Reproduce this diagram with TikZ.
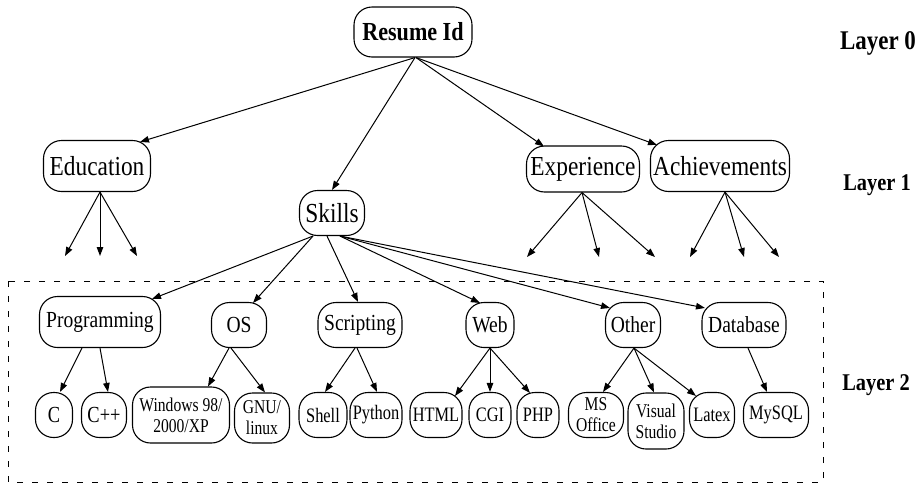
\documentclass[tikz,border=0pt]{standalone}
\usepackage{fontspec}
\setmainfont[FakeStretch=0.85]{Liberation Serif}
\newfontfamily\narrowfont[FakeStretch=0.8]{Liberation Serif}
\usetikzlibrary{arrows.meta}
\begin{document}
\begin{tikzpicture}[x=1pt,y=-1pt,
  box/.style={draw, rounded corners=18pt, inner sep=0pt, line width=1.1pt, align=center},
  arr/.style={-{Triangle[length=9pt,width=6.5pt]}, line width=1pt},
  big/.style={font=\fontsize{27.5}{32}\selectfont},
  mid/.style={font=\fontsize{23}{27}\selectfont},
  small/.style={font=\narrowfont\fontsize{20.5}{22}\selectfont},
  two/.style={font=\narrowfont\fontsize{19.5}{21}\selectfont},
  lab/.style={font=\bfseries\fontsize{24}{28}\selectfont},
  frame/.style={draw, line width=0.9pt, dash pattern=on 6pt off 9pt}
]
\useasboundingbox (0,0) rectangle (924,485);
% layer 0 and 1
\node[box,font=\bfseries\fontsize{26}{30}\selectfont,minimum width=118pt,minimum height=50pt] (root) at (413,32) {Resume Id};
\node[box,big,minimum width=107pt,minimum height=51pt] (edu) at (97,166) {Education};
\node[box,big,minimum width=65pt,minimum height=45pt] (skills) at (332,213) {Skills};
\node[box,big,minimum width=113pt,minimum height=46pt] (exp) at (583,169) {Experience};
\node[box,big,minimum width=139pt,minimum height=51pt] (ach) at (720,166) {Achievements};
% labels
\node[font=\bfseries\fontsize{27}{30}\selectfont] (l0) at (878,43) {Layer 0};
\node[lab] (l1) at (877,185) {Layer 1};
\node[lab] (l2) at (876,385) {Layer 2};
% frame
\draw[frame] (8,281) rectangle (823,482);
% layer 2 categories
\node[box,mid,minimum width=121pt,minimum height=51pt] (prog) at (100,322) {Programming};
\node[box,mid,minimum width=55pt,minimum height=45pt] (os) at (239,325) {OS};
\node[box,mid,minimum width=84pt,minimum height=45pt] (scr) at (360,325) {Scripting};
\node[box,mid,minimum width=48pt,minimum height=45pt] (web) at (490,325) {Web};
\node[box,mid,minimum width=55pt,minimum height=45pt] (oth) at (633,325) {Other};
\node[box,mid,minimum width=84pt,minimum height=45pt] (db) at (744,325) {Database};
% leaves
\node[box,font=\narrowfont\fontsize{23}{26}\selectfont,minimum width=37pt,minimum height=45pt] (c) at (54,415) {C};
\node[box,font=\narrowfont\fontsize{23}{26}\selectfont,minimum width=45pt,minimum height=45pt] (cpp) at (104,415) {C++};
\node[box,two,minimum width=97pt,minimum height=56pt] (win) at (181,415) {Windows 98/\\2000/XP};
\node[box,two,minimum width=55pt,minimum height=50pt] (gnu) at (262,418) {GNU/\\linux};
\node[box,small,minimum width=48pt,minimum height=45pt] (shell) at (323,415) {Shell};
\node[box,small,minimum width=52pt,minimum height=45pt] (py) at (376,415) {Python};
\node[box,small,minimum width=52pt,minimum height=45pt] (html) at (436,415) {HTML};
\node[box,small,minimum width=42pt,minimum height=45pt] (cgi) at (490,415) {CGI};
\node[box,small,minimum width=42pt,minimum height=45pt] (php) at (538,415) {PHP};
\node[box,two,minimum width=55pt,minimum height=45pt] (ms) at (596,415) {MS\\Office};
\node[box,two,minimum width=56pt,minimum height=56pt] (vs) at (656,421) {Visual\\Studio};
\node[box,small,minimum width=45pt,minimum height=45pt] (latex) at (712,415) {Latex};
\node[box,small,minimum width=65pt,minimum height=45pt] (mysql) at (776,415) {MySQL};
% free ends
\coordinate (e1) at (65,256); \coordinate (e2) at (100,256); \coordinate (e3) at (137,256);
\coordinate (x1) at (527,257); \coordinate (x2) at (599,257); \coordinate (x3) at (655,257);
\coordinate (a1) at (690,257); \coordinate (a2) at (744,257); \coordinate (a3) at (779,257);
% edges from root
\draw[arr] ([xshift=2pt]root.south) -- ([xshift=43pt,yshift=-2pt]edu.north);
\draw[arr] ([xshift=2pt]root.south) -- (skills.north);
\draw[arr] ([xshift=3pt]root.south) -- ([xshift=-39pt,yshift=-1pt]exp.north);
\draw[arr] ([xshift=3pt]root.south) -- ([xshift=-63pt,yshift=-5pt]ach.north);
% dangling
\draw[arr] ([xshift=3pt]edu.south) -- (e1);
\draw[arr] ([xshift=3pt]edu.south) -- (e2);
\draw[arr] ([xshift=3pt]edu.south) -- (e3);
\draw[arr] ([xshift=-1pt]exp.south) -- (x1);
\draw[arr] ([xshift=-1pt]exp.south) -- (x2);
\draw[arr] ([xshift=-1pt]exp.south) -- (x3);
\draw[arr] ([xshift=5pt]ach.south) -- (a1);
\draw[arr] ([xshift=5pt]ach.south) -- (a2);
\draw[arr] ([xshift=5pt]ach.south) -- (a3);
% skills
\draw[arr] ([xshift=-19pt]skills.south) -- ([xshift=52pt,yshift=-3pt]prog.north);
\draw[arr] ([xshift=-19pt]skills.south) -- ([xshift=14pt,yshift=-1pt]os.north);
\draw[arr] ([xshift=-5pt]skills.south) -- ([xshift=-2pt]scr.north);
\draw[arr] ([xshift=8pt]skills.south) -- ([xshift=-10pt,yshift=-1pt]web.north);
\draw[arr] ([xshift=8pt]skills.south) -- ([xshift=-23pt,yshift=-6pt]oth.north);
\draw[arr] ([xshift=8pt]skills.south) -- ([xshift=-39pt,yshift=-6pt]db.north);
% layer 2 edges
\draw[arr] ([xshift=-18pt]prog.south) -- ([xshift=6pt]c.north);
\draw[arr] (prog.south) -- ([xshift=4pt]cpp.north);
\draw[arr] ([xshift=-10pt]os.south) -- ([xshift=27pt]win.north);
\draw[arr] ([xshift=-8pt]os.south) -- ([xshift=3pt]gnu.north);
\draw[arr] ([xshift=-5pt]scr.south) -- ([xshift=2pt]shell.north);
\draw[arr] ([xshift=-3pt]scr.south) -- ([xshift=1pt]py.north);
\draw[arr] (web.south) -- ([xshift=19pt,yshift=-4pt]html.north);
\draw[arr] (web.south) -- (cgi.north);
\draw[arr] (web.south) -- ([xshift=-8pt,yshift=-1pt]php.north);
\draw[arr] ([xshift=1pt]oth.south) -- ([xshift=7pt]ms.north);
\draw[arr] ([xshift=1pt]oth.south) -- ([xshift=-2pt]vs.north);
\draw[arr] ([xshift=1pt]oth.south) -- ([xshift=-16pt,yshift=-4pt]latex.north);
\draw[arr] ([xshift=4pt]db.south) -- ([xshift=-9pt]mysql.north);
\end{tikzpicture}
\end{document}
